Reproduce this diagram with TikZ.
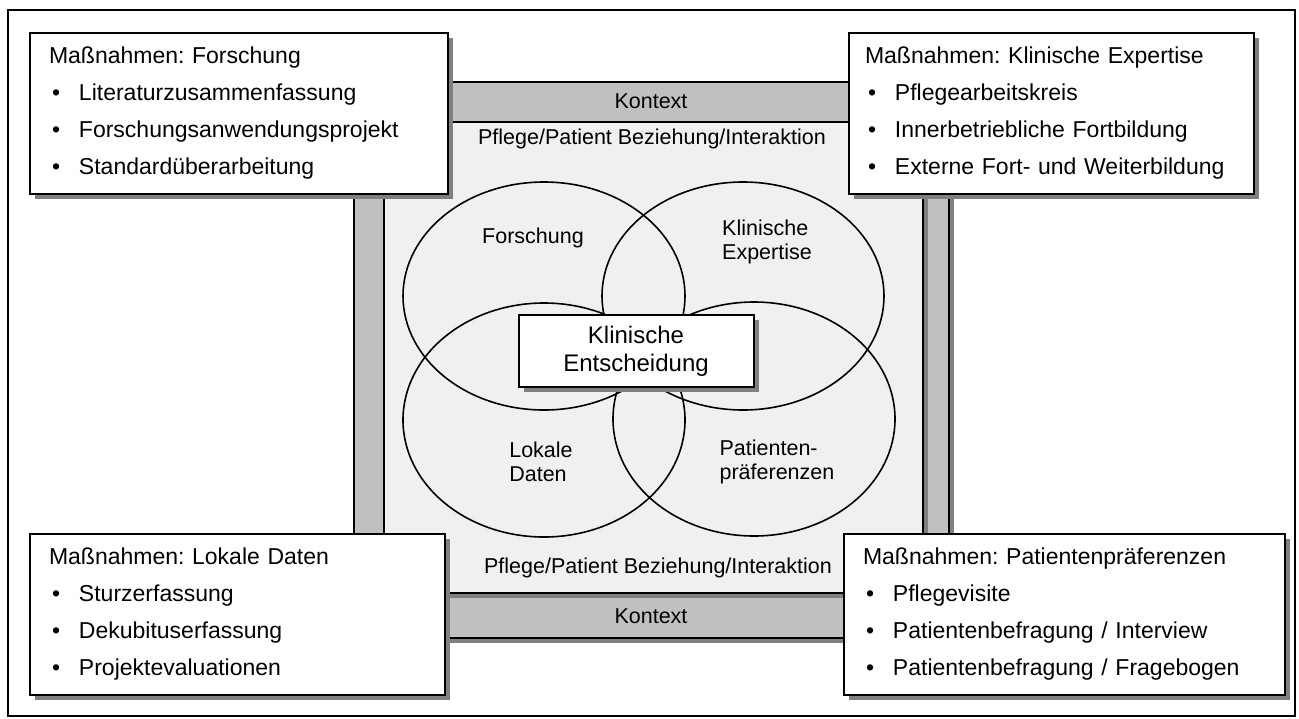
\documentclass[tikz,border=0pt]{standalone}
\usepackage{fontspec}
\setmainfont{Liberation Sans}
\usetikzlibrary{shapes,shadows,positioning}
\definecolor{ctxgray}{HTML}{C0C0C0}
\definecolor{pflegegray}{HTML}{F0F0F0}
\definecolor{shadegray}{HTML}{808080}
\newcommand{\itm}[1]{\\\hspace*{3pt}\makebox[27pt][l]{\textbullet}\mbox{#1}}
\frenchspacing

\begin{document}
\begin{tikzpicture}[x=1pt,y=-1pt,
  shade/.style={drop shadow={shadow xshift=5pt,shadow yshift=-5pt,fill=shadegray,opacity=1}},
  band/.style={draw,line width=2pt,shade,anchor=north west,inner sep=0pt},
  ring/.style={ellipse,draw,line width=1.6pt,inner sep=0pt,minimum width=282pt},
  lbl/.style={font=\fontsize{21.5}{24}\selectfont,align=left,inner sep=0pt},
  massbox/.style={draw,line width=2pt,fill=white,shade,anchor=north west,inner xsep=19pt,
    minimum height=161pt,align=left,font=\fontsize{23}{37}\selectfont}]
\useasboundingbox (0,0) rectangle (1299,718);
\draw[line width=1.6pt] (8,10) rectangle (1295,716);

\node[band,fill=ctxgray,minimum width=595pt,minimum height=556pt] (kontext) at (353,81) {};
\node[band,fill=pflegegray,minimum width=539pt,minimum height=471pt] (pflege) at (383,121) {};
\node[lbl] (kontexttop) at (651,101) {Kontext};
\node[lbl] (kontextbot) at (651,616) {Kontext};
\node[lbl] (pflegetop) at (652,139) {Pflege/Patient Beziehung/Interaktion};
\node[lbl] (pflegebot) at (658,568) {Pflege/Patient Beziehung/Interaktion};

\node[ring,minimum height=228pt] (forschung) at (544,296) {};
\node[ring,minimum height=228pt] (expertise) at (743,296) {};
\node[ring,minimum height=234pt] (daten) at (544,420) {};
\node[ring,minimum height=234pt] (praef) at (754,419) {};
\node[lbl] (forschunglbl) at (533,238) {Forschung};
\node[lbl] (expertiselbl) at (767,242) {Klinische\\Expertise};
\node[lbl] (datenlbl) at (541,462) {Lokale\\Daten};
\node[lbl] (praeflbl) at (777,462) {Patienten-\\präferenzen};

\node[draw,line width=2pt,fill=white,shade,minimum width=235pt,minimum height=72pt,align=center,
  font=\fontsize{24}{28}\selectfont,inner sep=0pt] (entscheidung) at (636,351) {Klinische\\Entscheidung};

\node[massbox,text width=380pt] (mforschung) at (29,32)
  {Maßnahmen: Forschung\itm{Literaturzusammenfassung}\itm{Forschungsanwendungsprojekt}\itm{Standardüberarbeitung}};
\node[massbox,inner xsep=16pt,text width=373pt] (mexpertise) at (848,32)
  {Maßnahmen: Klinische Expertise\itm{Pflegearbeitskreis}\itm{Innerbetriebliche Fortbildung}\itm{Externe Fort- und Weiterbildung}};
\node[massbox,text width=377pt] (mdaten) at (29,533)
  {Maßnahmen: Lokale Daten\itm{Sturzerfassung}\itm{Dekubituserfassung}\itm{Projektevaluationen}};
\node[massbox,text width=403pt] (mpraef) at (843,533)
  {Maßnahmen: Patientenpräferenzen\itm{Pflegevisite}\itm{Patientenbefragung / Interview}\itm{Patientenbefragung / Fragebogen}};
\end{tikzpicture}
\end{document}
